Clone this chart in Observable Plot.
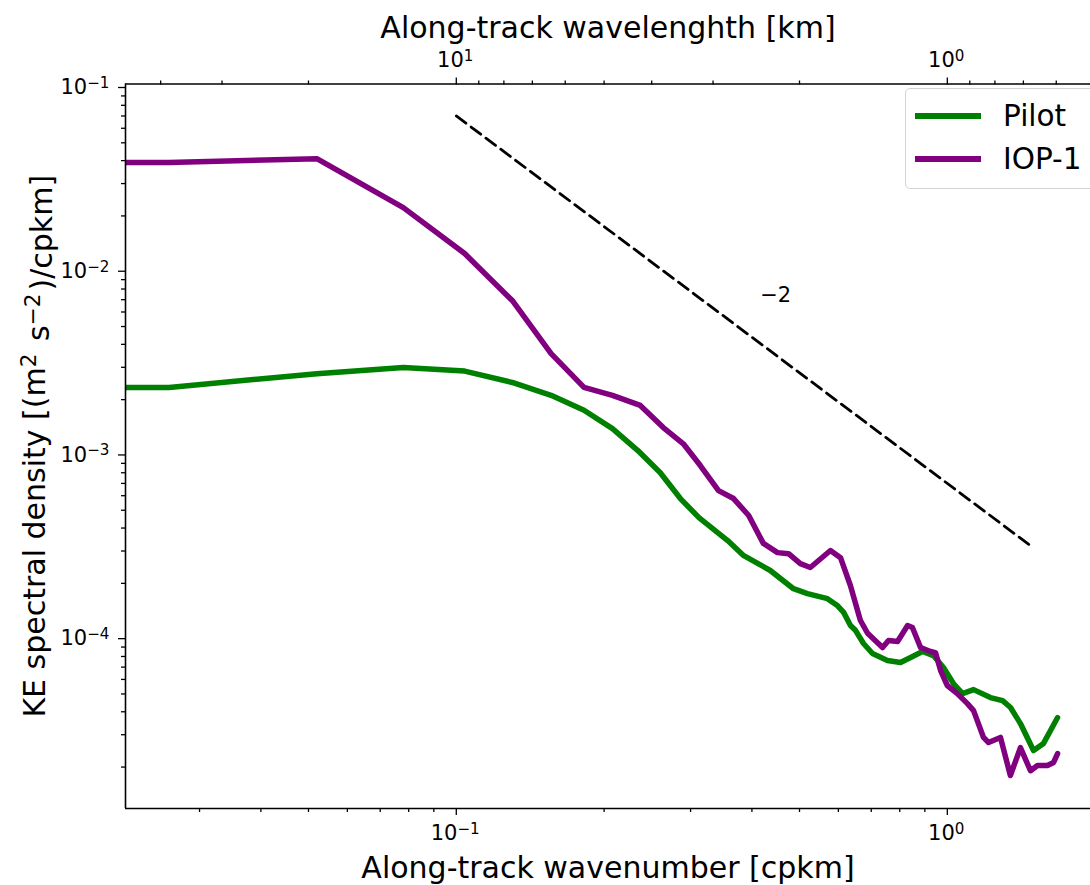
<!DOCTYPE html>
<html><head><meta charset="utf-8">
<script src="https://cdn.jsdelivr.net/npm/d3@7"></script>
<script src="https://cdn.jsdelivr.net/npm/@observablehq/plot@0.6"></script>
<style>
body{margin:0;background:#fff;}
#wrap{position:relative;width:1090px;height:885px;overflow:hidden;font-family:"DejaVu Sans",sans-serif;}
#legend{position:absolute;left:905px;top:88px;width:200px;height:101px;border:1.5px solid #d3d3d3;border-radius:5px;background:rgba(255,255,255,0.8);box-sizing:border-box;}
.row{position:absolute;left:0;height:40px;width:200px;}
.sw{position:absolute;left:9px;top:17px;width:66px;height:5.5px;}
.lab{position:absolute;left:97px;top:0;line-height:40px;font-size:29.5px;color:#000;}
</style></head>
<body><div id="wrap"></div>
<script>
// ---- data ----
const seriesNames = ["Pilot", "IOP-1"];
const seriesColors = ["#008000", "#800080"];
const pilotK = [0.0212,0.026,0.052,0.078,0.104,0.130,0.156,0.182,0.208,0.234,0.260,0.286,0.312,0.357,0.385,0.436,0.486,0.519,0.570,0.598,0.615,0.635,0.650,0.675,0.704,0.755,0.803,0.842,0.890,0.937,0.982,1.029,1.074,1.131,1.224,1.296,1.345,1.409,1.498,1.570,1.677];
const pilotE = [0.00233,0.00233,0.00277,0.00299,0.00286,0.00248,0.00211,0.00175,0.00139,0.00106,0.000802,0.000579,0.000456,0.000342,0.000283,0.000235,0.000187,0.000176,0.000165,0.000151,0.000139,0.000118,0.000111,9.41e-5,8.30e-5,7.60e-5,7.41e-5,7.89e-5,8.51e-5,8.09e-5,6.97e-5,5.70e-5,5.02e-5,5.28e-5,4.78e-5,4.60e-5,4.22e-5,3.45e-5,2.46e-5,2.69e-5,3.72e-5];
const iopK = [0.0212,0.026,0.052,0.078,0.104,0.130,0.156,0.182,0.208,0.237,0.264,0.290,0.314,0.342,0.367,0.394,0.422,0.451,0.475,0.502,0.526,0.578,0.606,0.635,0.665,0.688,0.738,0.759,0.792,0.830,0.849,0.882,0.924,0.946,0.969,1.0,1.048,1.099,1.131,1.185,1.213,1.283,1.344,1.409,1.477,1.526,1.599,1.646,1.677];
const iopE = [0.0391,0.0391,0.0410,0.0222,0.01248,0.00693,0.00356,0.00233,0.00211,0.00186,0.00141,0.00115,0.000876,0.000640,0.000579,0.000468,0.000330,0.000294,0.000290,0.000256,0.000244,0.000302,0.000276,0.000194,0.000126,0.000107,8.95e-5,9.77e-5,9.65e-5,0.000118,0.000115,8.95e-5,8.51e-5,8.40e-5,6.70e-5,5.56e-5,5.02e-5,4.43e-5,4.06e-5,2.90e-5,2.72e-5,2.90e-5,1.80e-5,2.55e-5,1.91e-5,2.04e-5,2.04e-5,2.12e-5,2.37e-5];
const slopeK = [0.1, 1.5];
const slopeE = [0.07, 0.000311];
const slopeText = ["\u22122"];
const slopeTextK = [0.447];
const slopeTextE = [0.00738];
const xDomain = [0.0212, 1.957];
const yDomain = [1.19e-5, 0.1045];
const xMajorTicks = [0.1, 1];
const xMinorTicks = [0.03,0.04,0.05,0.06,0.07,0.08,0.09,0.2,0.3,0.4,0.5,0.6,0.7,0.8,0.9];
const topMajorLambda = [10, 1];
const topMinorLambda = [40,30,20,9,8,7,6,5,4,3,2,0.9,0.8,0.7,0.6];
const yMajorTicks = [1e-4, 1e-3, 1e-2, 1e-1];
const yMinorMult = [2,3,4,5,6,7,8,9];
const yMinorDecades = [1e-5, 1e-4, 1e-3, 1e-2];
const xLabel = "Along-track wavenumber [cpkm]";
const topLabel = "Along-track wavelenghth [km]";
const yLabel = "KE spectral density [(m^2 s^-2)/cpkm]";

// ---- helpers ----
const expOf = v => Math.round(Math.log10(v));
const powLabel = e => "10^" + e;

const pilot = pilotK.map((k, i) => ({k, e: pilotE[i], s: seriesNames[0]}));
const iop = iopK.map((k, i) => ({k, e: iopE[i], s: seriesNames[1]}));
const slope = slopeK.map((k, i) => ({k, e: slopeE[i]}));
const yMinorTicks = yMinorDecades.flatMap(d => yMinorMult.map(m => m * d)).filter(v => v >= yDomain[0] && v <= yDomain[1]);
const topMajorK = topMajorLambda.map(l => 1 / l);
const topMinorK = topMinorLambda.map(l => 1 / l).filter(v => v >= xDomain[0] && v <= xDomain[1]);

const tickFont = 21;
const tickStyle = {stroke: "#000", strokeWidth: 1.3, strokeOpacity: 1, fontSize: tickFont, fill: "#000", fontFamily: "DejaVu Sans"};
const titleSize = 30;

const chart = Plot.plot({
  width: 1090, height: 885,
  marginTop: 83.5, marginBottom: 77, marginLeft: 125, marginRight: 0,
  style: {fontFamily: "DejaVu Sans", background: "#fff", color: "#000", overflow: "visible"},
  x: {type: "log", domain: xDomain},
  y: {type: "log", domain: yDomain},
  marks: [
    Plot.line(slope, {x: "k", y: "e", stroke: "#000", strokeWidth: 2.8, strokeDasharray: "12,6.5"}),
    Plot.text(slopeText, {x: () => slopeTextK[0], y: () => slopeTextE[0], text: d => d, fontSize: tickFont, fill: "#000"}),
    Plot.line(pilot, {x: "k", y: "e", stroke: seriesColors[0], strokeWidth: 5.5, clip: true, strokeLinejoin: "round"}),
    Plot.line(iop, {x: "k", y: "e", stroke: seriesColors[1], strokeWidth: 5.5, clip: true, strokeLinejoin: "round"}),
    // frame spines
    Plot.ruleY([yDomain[0]], {stroke: "#000", strokeWidth: 1.6}),
    Plot.ruleY([yDomain[1]], {stroke: "#000", strokeWidth: 1.6}),
    Plot.ruleX([xDomain[0]], {stroke: "#000", strokeWidth: 1.6}),
    // bottom axis
    Plot.axisX({anchor: "bottom", ticks: xMajorTicks, tickSize: 7, tickPadding: 10, tickFormat: v => powLabel(expOf(v)), label: null, ...tickStyle}),
    Plot.axisX({anchor: "bottom", ticks: xMinorTicks, tickSize: 4, tickFormat: () => "", label: null, ...tickStyle}),
    // top axis (wavelength)
    Plot.axisX({anchor: "top", ticks: topMajorK, tickSize: 7, tickPadding: 10, tickFormat: v => powLabel(expOf(1 / v)), label: null, ...tickStyle}),
    Plot.axisX({anchor: "top", ticks: topMinorK, tickSize: 4, tickFormat: () => "", label: null, ...tickStyle}),
    // left axis
    Plot.axisY({anchor: "left", ticks: yMajorTicks, tickSize: 7, tickPadding: 7, tickFormat: v => powLabel(expOf(v)), label: null, ...tickStyle}),
    Plot.axisY({anchor: "left", ticks: yMinorTicks, tickSize: 4, tickFormat: () => "", label: null, ...tickStyle}),
    // axis titles
    Plot.text([xLabel], {frameAnchor: "bottom", lineAnchor: "middle", textAnchor: "middle", dy: 60, fontSize: titleSize, fill: "#000"}),
    Plot.text([topLabel], {frameAnchor: "top", lineAnchor: "middle", textAnchor: "middle", dy: -56, fontSize: titleSize, fill: "#000"}),
    Plot.text([yLabel], {frameAnchor: "left", lineAnchor: "middle", textAnchor: "middle", dx: -90, rotate: -90, fontSize: titleSize, fill: "#000"})
  ]
});

// render "a^b" as a superscript (matplotlib mathtext style)
d3.select(chart).selectAll("text").each(function() {
  const t = d3.select(this);
  const raw = this.textContent;
  if (!raw.includes("^")) return;
  const parts = raw.split(/(\^-?\d+)/);
  t.text(null);
  parts.forEach(p => {
    if (!p) return;
    if (p.startsWith("^")) {
      t.append("tspan").attr("dy", "-0.42em").attr("font-size", "0.72em").text(p.slice(1).replace("-", "\u2212"));
      t.append("tspan").attr("dy", "0.42em").text("\u200A");
    } else {
      t.append("tspan").text(p);
    }
  });
});

const wrap = document.getElementById("wrap");
wrap.appendChild(chart);

// legend
const legend = document.createElement("div");
legend.id = "legend";
seriesNames.forEach((name, i) => {
  const row = document.createElement("div");
  row.className = "row";
  row.style.top = (7 + i * 43) + "px";
  const sw = document.createElement("div");
  sw.className = "sw";
  sw.style.background = seriesColors[i];
  const lab = document.createElement("div");
  lab.className = "lab";
  lab.textContent = name;
  row.appendChild(sw); row.appendChild(lab);
  legend.appendChild(row);
});
wrap.appendChild(legend);
</script></body></html>
